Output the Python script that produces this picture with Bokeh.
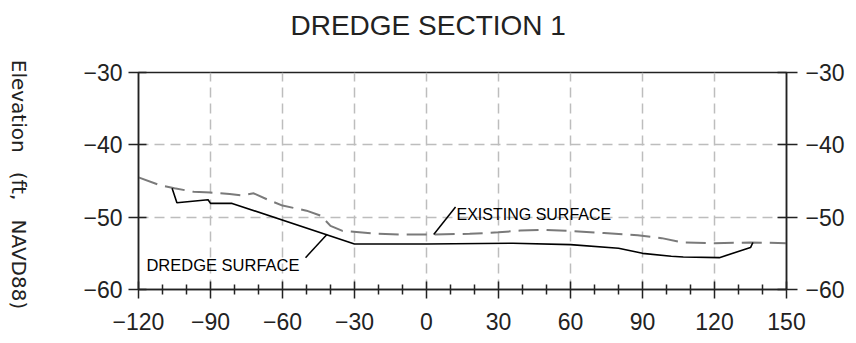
import math
from bokeh.plotting import figure
from bokeh.layouts import row
from bokeh.models import Range1d, FixedTicker, LinearAxis, Label, Title
from bokeh.core.properties import value
from bokeh.embed import file_html
from bokeh.resources import INLINE

# ---------------- data ----------------
title_text = "DREDGE SECTION 1"
y_label_text = "Elevation\u00a0\u00a0\u00a0(ft,\u00a0\u00a0\u00a0NAVD88)"

x_ticks = [-120, -90, -60, -30, 0, 30, 60, 90, 120, 150]
x_minor = [-110, -100, -80, -70, -50, -40, -20, -10, 10, 20, 40, 50, 70, 80, 100, 110, 130, 140]
x_tick_labels = ["\u2212120", "\u221290", "\u221260", "\u221230", "0", "30", "60", "90", "120", "150"]
y_ticks = [-60, -50, -40, -30]
y_tick_labels = ["\u221260", "\u221250", "\u221240", "\u221230"]

existing_x = [-120, -111, -105, -97, -90, -82, -77, -72, -66, -60, -50, -44, -40, -35, -20,
              -10, 3, 18, 30, 39, 49, 60, 74, 88, 98, 107, 120, 135, 150]
existing_y = [-44.5, -45.6, -46.0, -46.5, -46.6, -46.8, -47.0, -46.7, -47.6, -48.4, -49.1, -49.8, -51.2, -51.9, -52.3,
              -52.4, -52.4, -52.3, -52.1, -51.85, -51.75, -51.9, -52.2, -52.5, -52.9, -53.5, -53.6, -53.5, -53.6]

dredge_x = [-106, -104, -91, -90, -81, -30, 0, 36, 60, 80, 90, 102, 107, 122, 135, 136]
dredge_y = [-46.0, -48.0, -47.6, -48.1, -48.1, -53.7, -53.7, -53.6, -53.8, -54.3, -55.0, -55.4, -55.5, -55.6, -54.2, -53.5]

existing_label = "EXISTING SURFACE"
existing_label_xy = (12.5, -49.7)
existing_leader_x = [3, 12.1]
existing_leader_y = [-52.4, -48.6]

dredge_label = "DREDGE SURFACE"
dredge_label_xy = (-116.7, -56.6)
dredge_leader_x = [-50.4, -41.4]
dredge_leader_y = [-55.6, -52.35]

# ---------------- layout constants ----------------
LABEL_W = 30
TOTAL_H = 339
AX = "#222222"

# ---------------- main figure ----------------
p = figure(frame_width=648, frame_height=217,
           x_range=Range1d(-120, 150), y_range=Range1d(-60, -30),
           output_backend="svg", toolbar_location=None,
           min_border_left=138 - LABEL_W, min_border_top=72, min_border_right=10, min_border_bottom=50)
p.background_fill_color = "white"
p.border_fill_color = "white"
p.outline_line_color = AX
p.outline_line_width = 1.5

# spacer between frame and title (keeps the title high without moving the frame)
p.add_layout(Title(text=" ", text_font_size="10px", standoff=19), "above")

p.title.text = title_text
p.title.align = "left"
p.title.offset = 152
p.title.standoff = 0
p.title.vertical_align = "bottom"
p.title.text_font = "Liberation Sans"
p.title.text_font_style = "normal"
p.title.text_font_size = "28px"
p.title.text_color = "#222222"

# grids
p.xgrid.ticker = FixedTicker(ticks=x_ticks)
p.ygrid.ticker = FixedTicker(ticks=y_ticks)
for g in (p.xgrid, p.ygrid):
    g.grid_line_color = "#bdbdbd"
    g.grid_line_width = 1.5
    g.grid_line_dash = "10 6"

def style_axis(ax, labels, ticks, minor=None, out=10, inn=8):
    ax.ticker = FixedTicker(ticks=ticks, minor_ticks=minor or [])
    ax.major_label_overrides = {t: l for t, l in zip(ticks, labels)}
    ax.axis_line_color = AX
    ax.axis_line_width = 1.5
    ax.major_tick_line_color = AX
    ax.major_tick_line_width = 1.5
    ax.major_tick_out = out
    ax.major_tick_in = inn
    if minor:
        ax.minor_tick_line_color = AX
        ax.minor_tick_line_width = 1.5
        ax.minor_tick_out = 5
        ax.minor_tick_in = 5
    else:
        ax.minor_tick_line_color = None
    ax.major_label_text_font = "Liberation Sans"
    ax.major_label_text_font_size = "23px"
    ax.major_label_text_color = "#222222"

xa = p.xaxis[0]
style_axis(xa, x_tick_labels, x_ticks, x_minor, out=9, inn=8)
xa.major_label_standoff = 14

ya = p.yaxis[0]
style_axis(ya, y_tick_labels, y_ticks, None, out=10, inn=8)
ya.major_label_standoff = 6

ra = LinearAxis()
style_axis(ra, y_tick_labels, y_ticks, None, out=11, inn=9)
ra.major_label_standoff = 8
p.add_layout(ra, "right")

# data lines
p.line(existing_x, existing_y, line_color="#7a7a7a", line_width=2, line_dash="20 8")
p.line(dredge_x, dredge_y, line_color="black", line_width=1.6)

# leaders
p.line(existing_leader_x, existing_leader_y, line_color="black", line_width=1.5)
p.line(dredge_leader_x, dredge_leader_y, line_color="black", line_width=1.5)

# annotation texts
p.add_layout(Label(x=existing_label_xy[0], y=existing_label_xy[1], text=existing_label,
                   text_font="Liberation Sans", text_font_size="16px", text_color="black",
                   text_baseline="alphabetic", text_align="left"))
p.add_layout(Label(x=dredge_label_xy[0], y=dredge_label_xy[1], text=dredge_label,
                   text_font="Liberation Sans", text_font_size="16.5px", text_color="black",
                   text_baseline="alphabetic", text_align="left"))

# ---------------- vertical axis title strip ----------------
q = figure(width=LABEL_W, height=TOTAL_H, x_range=Range1d(0, LABEL_W), y_range=Range1d(0, TOTAL_H),
           output_backend="svg", toolbar_location=None,
           min_border_left=0, min_border_right=0, min_border_top=0, min_border_bottom=0)
try:
    q.frame_align = False
except Exception:
    pass
q.axis.visible = False
q.grid.visible = False
q.outline_line_color = None
q.background_fill_color = "white"
q.border_fill_color = "white"
q.text(x=[18], y=[TOTAL_H - 184], text=[y_label_text], angle=-math.pi / 2,
       text_font=value("DejaVu Sans"), text_font_size="20px", text_color="#222222",
       text_align="center", text_baseline="middle")

layout = row(q, p)
open("out.html", "w").write(file_html(layout, INLINE))
